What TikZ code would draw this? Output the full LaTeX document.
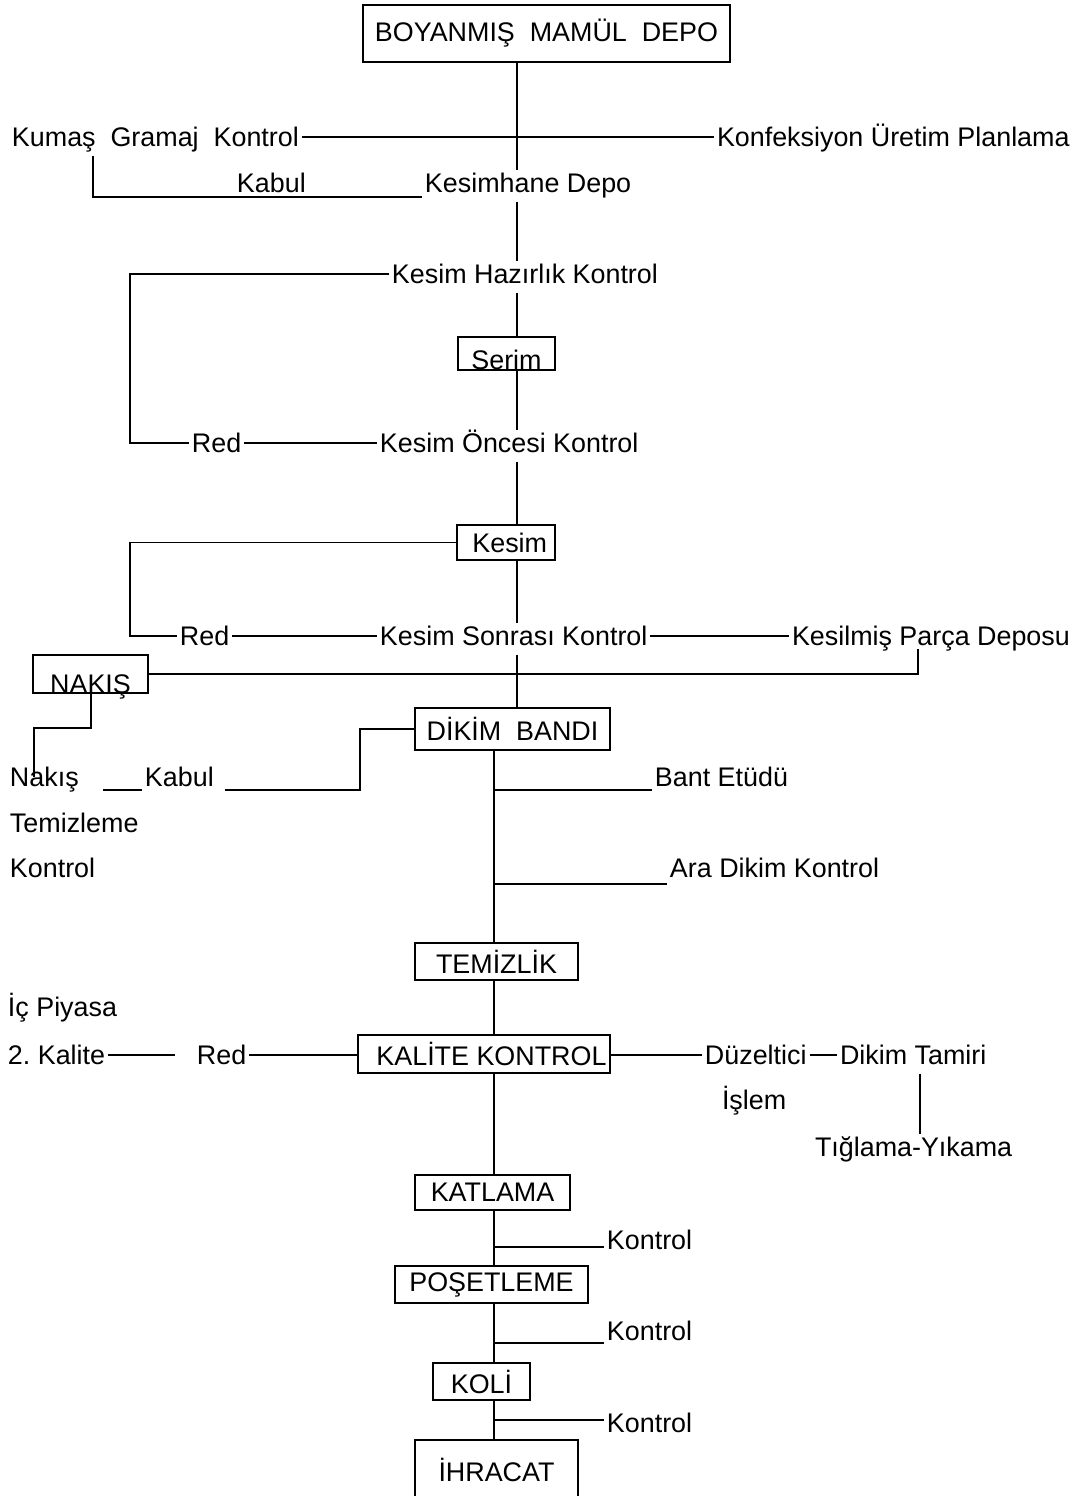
\documentclass[tikz,border=0pt]{standalone}
\usepackage{fontspec}
\setmainfont{Liberation Sans}
\begin{document}
\begin{tikzpicture}[x=0.02cm,y=-0.02cm,
  every node/.style={font=\fontsize{15.3}{18}\selectfont},
  lbl/.style={anchor=west, inner sep=1.5pt, text height=11pt, text depth=0pt},
  box/.style={draw, line width=1.3pt, inner sep=0pt},
  lowbox/.style={box, text depth=0pt, text height=#1, inner ysep=0pt},
  conn/.style={line width=1.05pt}]
\useasboundingbox (0,0) rectangle (1080,1496);
\fill[white] (0,0) rectangle (1080,1496);

% trunk and bend columns / rows
\coordinate (tA) at (517,0);
\coordinate (tB) at (494,0);
\coordinate (xL1) at (93,0);
\coordinate (xL2) at (130,0);
\coordinate (xNK) at (91,0);
\coordinate (xNK2) at (34,0);
\coordinate (xKP) at (918,0);
\coordinate (xDB) at (360,0);
\coordinate (xTG) at (920,0);
\coordinate (yKab) at (0,197);
\coordinate (yNk2) at (0,728);
\coordinate (yDB) at (0,790);
\coordinate (yAra) at (0,884);
\coordinate (yK1) at (0,1247);
\coordinate (yK2) at (0,1343);
\coordinate (yK3) at (0,1420);

% boxes
\node[box, minimum width=7.34cm, minimum height=1.14cm] (top) at (546.5,33.5) {BOYANMIŞ\ \ MAMÜL\ \ DEPO};
\node[lowbox=0.66cm, minimum width=1.94cm] (serim) at (506.5,353.5) {Serim};
\node[box, minimum width=1.96cm, minimum height=0.70cm] (kesim) at (506,542.5) {\ Kesim};
\node[lowbox=0.76cm, minimum width=2.3cm] (nakis) at (90.5,674) {NAKIŞ};
\node[box, minimum width=3.9cm, minimum height=0.84cm] (dikim) at (512.5,729) {DİKİM\ \ BANDI};
\node[box, minimum width=3.26cm, minimum height=0.74cm] (temizlik) at (496.5,961.5) {TEMİZLİK};
\node[box, minimum width=5.04cm, minimum height=0.76cm] (kalite) at (484,1054) {\ \ KALİTE KONTROL};
\node[box, minimum width=3.1cm, minimum height=0.70cm] (katlama) at (492.5,1192.5) {KATLAMA};
\node[box, minimum width=3.86cm, minimum height=0.74cm] (poset) at (491.5,1284.5) {POŞETLEME};
\node[box, minimum width=1.94cm, minimum height=0.74cm] (koli) at (481.5,1381.5) {KOLİ};
\node[box, minimum width=3.26cm, minimum height=1.2cm] (ihracat) at (496.5,1470) {İHRACAT};

% labels
\node[lbl] (kgk) at (9,137) {Kumaş\ \ Gramaj\ \ Kontrol};
\node[lbl] (kup) at (714,137) {Konfeksiyon Üretim Planlama};
\node[lbl] (kabul1) at (234,183) {Kabul};
\node[lbl] (kdepo) at (422,183) {Kesimhane Depo};
\node[lbl] (khk) at (389,274) {Kesim Hazırlık Kontrol};
\node[lbl] (red1) at (189,443) {Red};
\node[lbl] (kok) at (377,443) {Kesim Öncesi Kontrol};
\node[lbl] (red2) at (177,636) {Red};
\node[lbl] (ksk) at (377,636) {Kesim Sonrası Kontrol};
\node[lbl] (kpd) at (789,636) {Kesilmiş Parça Deposu};
\node[lbl] (nakis2) at (7,777) {Nakış};
\node[lbl] (kabul2) at (142,777) {Kabul};
\node[lbl] (temizleme) at (7,823) {Temizleme};
\node[lbl] (kontrolA) at (7,868) {Kontrol};
\node[lbl] (bant) at (652,777) {Bant Etüdü};
\node[lbl] (ara) at (667,868) {Ara Dikim Kontrol};
\node[lbl] (icp) at (5,1007) {İç Piyasa};
\node[lbl] (kal2) at (5,1055) {2.\ Kalite};
\node[lbl] (red3) at (194,1055) {Red};
\node[lbl] (duz) at (702,1055) {Düzeltici};
\node[lbl] (islem) at (719,1100) {İşlem};
\node[lbl] (dt) at (837,1055) {Dikim Tamiri};
\node[lbl] (tig) at (812,1147) {Tığlama-Yıkama};
\node[lbl] (k1) at (604,1240) {Kontrol};
\node[lbl] (k2) at (604,1331) {Kontrol};
\node[lbl] (k3) at (604,1423) {Kontrol};

% free ends
\coordinate (kabEnd) at (225,790);
\coordinate (nkA) at (103,790);
\coordinate (kalEnd) at (175,1055);

\begin{scope}[conn]
% upper trunk
\draw (top.south -| tA) -- (kdepo.north -| tA);
\draw (kgk.east) -- (kup.west);
\draw (kgk.south -| xL1) ++(0,6) -- (xL1 |- yKab) -- (kdepo.west |- yKab);
\draw (kdepo.south -| tA) ++(0,6) -- (khk.north -| tA);
\draw (khk.west) -- (xL2 |- khk.west) -- (xL2 |- red1.west) -- (red1.west);
\draw (red1.east) -- (kok.west);
\draw (khk.south -| tA) ++(0,6) -- (serim.north -| tA);
\draw (serim.south -| tA) -- (kok.north -| tA);
\draw (kok.south -| tA) ++(0,6) -- (kesim.north -| tA);
\draw (kesim.west) -- (xL2 |- kesim.west) -- (xL2 |- red2.west) -- (red2.west);
\draw (red2.east) -- (ksk.west);
\draw (ksk.east) -- (kpd.west);
\draw (kesim.south -| tA) -- (ksk.north -| tA);
\draw (ksk.south -| tA) ++(0,6) -- (dikim.north -| tA);
% embroidery branch
\draw (nakis.east) -- (xKP |- nakis.east) -- (kpd.south -| xKP) ++(0,6);
\draw (nakis.south -| xNK) -- (xNK |- yNk2) -- (xNK2 |- yNk2) -- (xNK2 |- nakis2.center);
\draw (nkA) -- (kabul2.west |- nkA);
\draw (dikim.west) -- (xDB |- dikim.west) -- (xDB |- yDB) -- (kabEnd);
% lower trunk
\draw (dikim.south -| tB) -- (temizlik.north -| tB);
\draw (tB |- yDB) -- (bant.west |- yDB);
\draw (tB |- yAra) -- (ara.west |- yAra);
\draw (temizlik.south -| tB) -- (kalite.north -| tB);
\draw (kal2.east) -- (kalEnd);
\draw (red3.east) -- (red3.east -| kalite.west);
\draw (kalite.east |- duz.west) -- (duz.west);
\draw (duz.east) -- (dt.west);
\draw (dt.south -| xTG) ++(0,6) -- (tig.north -| xTG);
\draw (kalite.south -| tB) -- (katlama.north -| tB);
\draw (katlama.south -| tB) -- (poset.north -| tB);
\draw (tB |- yK1) -- (k1.west |- yK1);
\draw (poset.south -| tB) -- (koli.north -| tB);
\draw (tB |- yK2) -- (k2.west |- yK2);
\draw (koli.south -| tB) -- (ihracat.north -| tB);
\draw (tB |- yK3) -- (k3.west |- yK3);
\end{scope}
\end{tikzpicture}
\end{document}
